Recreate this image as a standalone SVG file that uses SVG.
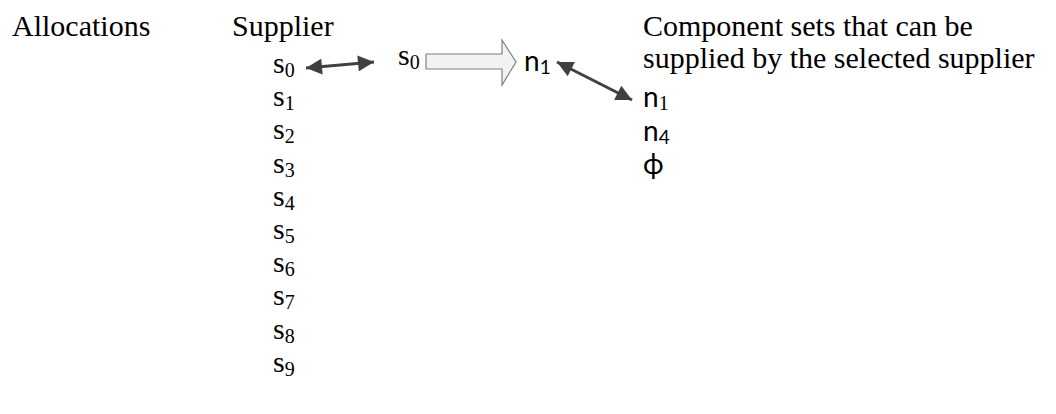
<svg xmlns="http://www.w3.org/2000/svg" width="1056" height="414" viewBox="0 0 1056 414">
<style>
.serif{font-family:"Liberation Serif","Times New Roman",serif;font-size:30px;fill:#000}
.sans{font-family:Lato,"Open Sans",sans-serif;font-size:28px;fill:#000}
.sub{font-size:20px}
.subs{font-size:19px}
.conn{stroke:#404040;stroke-width:3;fill:none}
</style>
<defs>
<marker id="ah" viewBox="0 0 10 10" refX="10" refY="5" markerWidth="19" markerHeight="16" markerUnits="userSpaceOnUse" orient="auto-start-reverse">
<path d="M0,0 L10,5 L0,10 Z" fill="#404040"/>
</marker>
</defs>
<rect width="1056" height="414" fill="#fff"/>
<g id="allocations"><text class="serif" x="12" y="36">Allocations</text></g>
<g id="supplier-header"><text class="serif" x="232" y="36">Supplier</text></g>
<g id="supplier-list">
<text class="serif" x="273" y="73">s<tspan class="sub" dy="4">0</tspan></text>
<text class="serif" x="273" y="106">s<tspan class="sub" dy="4">1</tspan></text>
<text class="serif" x="273" y="139">s<tspan class="sub" dy="4">2</tspan></text>
<text class="serif" x="273" y="173">s<tspan class="sub" dy="4">3</tspan></text>
<text class="serif" x="273" y="206">s<tspan class="sub" dy="4">4</tspan></text>
<text class="serif" x="273" y="239">s<tspan class="sub" dy="4">5</tspan></text>
<text class="serif" x="273" y="272">s<tspan class="sub" dy="4">6</tspan></text>
<text class="serif" x="273" y="305">s<tspan class="sub" dy="4">7</tspan></text>
<text class="serif" x="273" y="339">s<tspan class="sub" dy="4">8</tspan></text>
<text class="serif" x="273" y="372">s<tspan class="sub" dy="4">9</tspan></text>
</g>
<g id="selected-supplier"><text class="serif" x="398" y="65">s<tspan class="sub" dy="4">0</tspan></text></g>
<g id="block-arrow"><polygon points="426,54 502,54 502,40 516,62 502,85 502,69 426,69" fill="#f2f2f2" stroke="#7f7f7f" stroke-width="1.2"/></g>
<g id="selected-set"><text class="sans" x="524" y="71">n<tspan class="subs" dy="3">1</tspan></text></g>
<g id="sets-header"><text class="serif" x="643" y="36">Component sets that can be</text><text class="serif" x="643" y="68">supplied by the selected supplier</text></g>
<g id="sets-list">
<text class="sans" x="643" y="107">n<tspan class="serif sub" dy="3">1</tspan></text>
<text class="sans" x="643" y="141">n<tspan class="subs" dy="3">4</tspan></text>
<text class="sans" x="643" y="174">ϕ</text>
</g>
<g id="connectors">
<line class="conn" x1="306" y1="68" x2="374" y2="62" marker-start="url(#ah)" marker-end="url(#ah)"/>
<line class="conn" x1="557" y1="62" x2="632" y2="100" marker-start="url(#ah)" marker-end="url(#ah)"/>
</g>
</svg>
